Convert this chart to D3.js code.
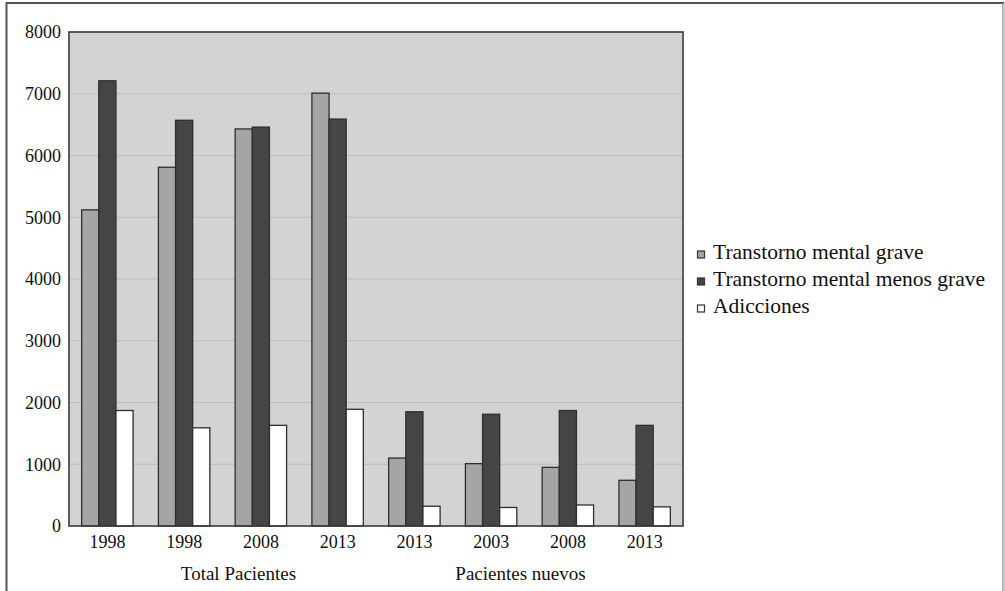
<!DOCTYPE html>
<html><head><meta charset="utf-8">
<script src="https://cdn.jsdelivr.net/npm/d3@7"></script>
<style>body{margin:0;background:#fff;}svg{display:block;font-family:"Liberation Serif",serif;}</style>
</head><body>
<svg id="c" width="1005" height="591"></svg>
<script>
const categories = ["1998","1998","2008","2013","2013","2003","2008","2013"];
const groupLabels = ["Total Pacientes","Pacientes nuevos"];
const seriesNames = ["Transtorno mental grave","Transtorno mental menos grave","Adicciones"];
const grave = [5120,5810,6430,7010,1100,1010,950,740];
const menosGrave = [7210,6570,6460,6590,1850,1810,1870,1630];
const adicciones = [1870,1590,1630,1890,320,300,340,310];
const yTicks = [0,1000,2000,3000,4000,5000,6000,7000,8000];
const colors = ["#a5a5a5","#454545","#ffffff"];

const svg = d3.select("#c");
svg.append("rect").attr("x",6.5).attr("y",3).attr("width",997).attr("height",600)
  .attr("fill","#fff").attr("stroke","#555").attr("stroke-width",2);
svg.append("line").attr("x1",1004).attr("x2",1004).attr("y1",3).attr("y2",591).attr("stroke","#c8c8c8").attr("stroke-width",2);

const m = {l:69,t:32,r:683,b:526};
const x0 = d3.scaleBand().domain(d3.range(categories.length)).range([m.l,m.r]).padding(0);
const x1 = d3.scaleBand().domain(d3.range(3)).range([x0.bandwidth()*0.165, x0.bandwidth()*0.835]).padding(0);
const y = d3.scaleLinear().domain([0,8000]).range([m.b,m.t]);

svg.append("rect").attr("x",m.l).attr("y",m.t).attr("width",m.r-m.l).attr("height",m.b-m.t).attr("fill","#d3d3d3");
svg.append("g").selectAll("line").data(yTicks.filter(d=>d>0&&d<8000)).join("line")
  .attr("x1",m.l).attr("x2",m.r).attr("y1",d=>y(d)).attr("y2",d=>y(d))
  .attr("stroke","#bdbdbd").attr("stroke-width",1.2);

const data = categories.map((c,i)=>[grave[i],menosGrave[i],adicciones[i]]);
const g = svg.append("g");
data.forEach((vals,i)=>{
  g.selectAll(null).data(vals).join("rect")
    .attr("x",(d,j)=>x0(i)+x1(j))
    .attr("y",d=>y(d))
    .attr("width",x1.bandwidth())
    .attr("height",d=>y(0)-y(d))
    .attr("fill",(d,j)=>colors[j])
    .attr("stroke","#2e2e2e").attr("stroke-width",1.3);
});

svg.append("rect").attr("x",m.l).attr("y",m.t).attr("width",m.r-m.l).attr("height",m.b-m.t)
  .attr("fill","none").attr("stroke","#3a3a3a").attr("stroke-width",1.6);

const ya = svg.append("g").attr("transform",`translate(${m.l},0)`)
  .call(d3.axisLeft(y).tickValues(yTicks).tickSize(0).tickPadding(8).tickFormat(d3.format("d")));
ya.select(".domain").remove();
ya.selectAll("text").attr("font-family","Liberation Serif").attr("font-size",18).attr("fill","#111");

const xa = svg.append("g").attr("transform",`translate(0,${m.b})`)
  .call(d3.axisBottom(x0).tickSize(0).tickFormat(i=>categories[i]));
xa.select(".domain").remove();
xa.selectAll("text").attr("y",22).attr("dy",0).attr("font-family","Liberation Serif").attr("font-size",18).attr("fill","#111");

const gl = [ (x0(1)+x0.bandwidth()+x0(2))/2 + 16, (x0(5)+x0.bandwidth()+x0(6))/2 - 9 ];
svg.selectAll(".gl").data(groupLabels).join("text")
  .attr("x",(d,i)=>gl[i]).attr("y",580).attr("text-anchor","middle")
  .attr("font-size",19).attr("fill","#111").text(d=>d);

const lg = svg.append("g").attr("transform","translate(697,0)");
seriesNames.forEach((s,i)=>{
  const yy = 251 + i*27;
  lg.append("rect").attr("x",0.5).attr("y",yy).attr("width",7).attr("height",7)
    .attr("fill",colors[i]).attr("stroke","#333").attr("stroke-width",1.2);
  lg.append("text").attr("x",16).attr("y",yy+8).attr("font-size",21.5).attr("fill","#111").text(s);
});
</script>
</body></html>
